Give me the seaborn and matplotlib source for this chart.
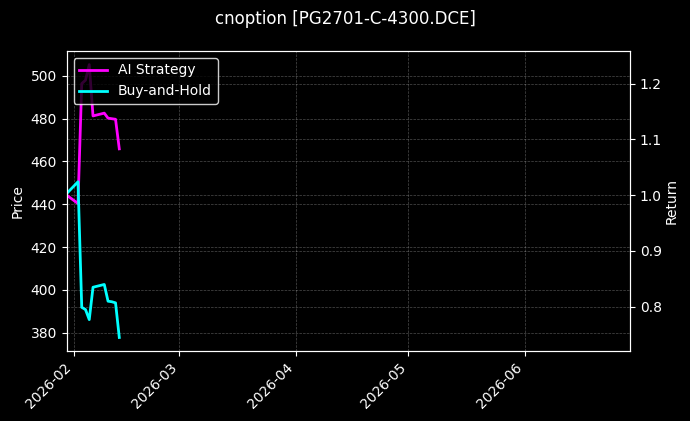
import pandas as pd
import seaborn as sns
import matplotlib
matplotlib.use('Agg')
from matplotlib import pyplot as plt
import matplotlib.dates as mdates

dates = ['2026-01-30', '2026-02-02', '2026-02-03', '2026-02-04', '2026-02-05', '2026-02-06',
         '2026-02-09', '2026-02-10', '2026-02-11', '2026-02-12', '2026-02-13']
ai_return = [1.000, 0.985, 1.200, 1.206, 1.234, 1.142, 1.147, 1.138, 1.137, 1.136, 1.083]
bh_return = [1.003, 1.024, 0.799, 0.795, 0.777, 0.835, 0.840, 0.810, 0.809, 0.807, 0.745]
price_lim = (371.4, 511.6)
x_lim = ('2026-01-30', '2026-06-29')
title = 'cnoption [PG2701-C-4300.DCE]'

plt.style.use('dark_background')
df = pd.DataFrame({'date': pd.to_datetime(dates), 'ai': ai_return, 'bh': bh_return})

fig = plt.figure(figsize=(6.9, 4.21), dpi=100)
ax = fig.add_axes([0.0967, 0.166, 0.8163, 0.713])
ax2 = ax.twinx()

# price axis (left) only carries the scale, returns go on the right
ax.set_ylim(*price_lim)
ax.set_ylabel('Price')
ax.grid(True, linestyle='--', linewidth=0.5, alpha=0.3)

sns.lineplot(data=df, x='date', y='ai', ax=ax2, color='#ff00ff', linewidth=2, label='AI Strategy')
sns.lineplot(data=df, x='date', y='bh', ax=ax2, color='#00ffff', linewidth=2, label='Buy-and-Hold')
ax2.set_ylabel('Return', labelpad=2)
ax2.set_xlabel('')
ax2.grid(True, linestyle='--', linewidth=0.5, alpha=0.3)
ax2.legend(loc='upper left', facecolor='black', edgecolor='white', framealpha=0.8)

ax.set_xlim(pd.Timestamp(x_lim[0]), pd.Timestamp(x_lim[1]))
ax.xaxis.set_major_locator(mdates.MonthLocator())
ax.xaxis.set_major_formatter(mdates.DateFormatter('%Y-%m'))
for lab in ax.get_xticklabels():
    lab.set_rotation(45)
    lab.set_ha('right')
ax.set_xlabel('')

fig.suptitle(title, fontsize=12, y=0.977)
fig.savefig('out.png', dpi=100, facecolor='black')
